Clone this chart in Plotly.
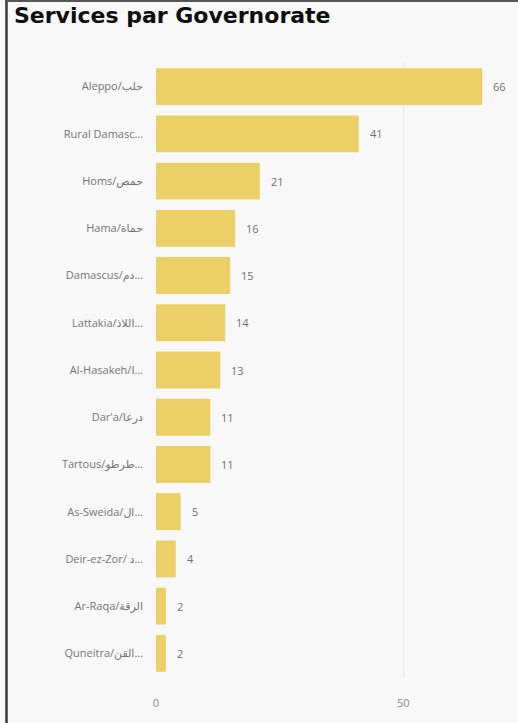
import plotly.graph_objects as go

# Services count by governorate (top to bottom)
governorates = [
    "Aleppo/حلب", "Rural Damasc…", "Homs/حمص", "Hama/حماة", "Damascus/دم…",
    "Lattakia/اللاذ…", "Al-Hasakeh/ا…", "Dar'a/درعا", "Tartous/طرطو…",
    "As-Sweida/ال…", "Deir-ez-Zor/ د…", "Ar-Raqa/الرقة", "Quneitra/القن…",
]
services = [66, 41, 21, 16, 15, 14, 13, 11, 11, 5, 4, 2, 2]
x_ticks = [0, 50]

W, H = 518, 723
ML, MR, MT, MB = 156, 6, 63, 46
pw, ph = W - ML - MR, H - MT - MB

BAR = "#EDD065"
BG = "#f8f8f8"
LABEL_FONT = "Open Sans, DejaVu Sans"

fig = go.Figure(go.Bar(
    x=services, y=governorates, orientation="h",
    marker=dict(color=BAR, line=dict(width=0)),
    hoverinfo="x+y",
))

# value labels next to each bar end
for g, v in zip(governorates, services):
    fig.add_annotation(x=v, y=g, text=str(v), showarrow=False,
                       xanchor="left", xshift=9,
                       font=dict(family=LABEL_FONT, size=11, color="#707070"))

# frame lines on left and top edges
def px_to_paper_x(px):
    return (px - ML) / pw

def px_to_paper_y(py):
    return (H - MB - py) / ph

fig.add_shape(type="line", xref="paper", yref="paper",
              x0=px_to_paper_x(6.5), x1=px_to_paper_x(6.5),
              y0=px_to_paper_y(0), y1=px_to_paper_y(H),
              line=dict(color="#3a3a3a", width=2.5))
fig.add_shape(type="line", xref="paper", yref="paper",
              x0=px_to_paper_x(5), x1=px_to_paper_x(W),
              y0=px_to_paper_y(1), y1=px_to_paper_y(1),
              line=dict(color="#555", width=2))

fig.update_layout(
    width=W, height=H,
    margin=dict(l=ML, r=MR, t=MT, b=MB),
    paper_bgcolor=BG, plot_bgcolor=BG,
    bargap=0.22,
    showlegend=False,
    title=dict(text="<b>Services par Governorate</b>",
               x=14 / W, xanchor="left", xref="container",
               y=1 - 8 / H, yanchor="top", yref="container",
               font=dict(family="DejaVu Sans", size=22, color="#0d0d0d")),
    xaxis=dict(range=[0, 72], tickvals=x_ticks, showgrid=True,
               gridcolor="#e9e9e9", gridwidth=1, zeroline=False,
               showline=False, ticks="",
               tickfont=dict(family=LABEL_FONT, size=11, color="#8a8a8a"),
               ticklabelstandoff=18, fixedrange=True),
    yaxis=dict(autorange="reversed", showgrid=False, zeroline=False,
               showline=False, ticks="", ticklabelstandoff=12,
               tickfont=dict(family=LABEL_FONT, size=11, color="#757575"),
               fixedrange=True),
)

fig.write_html("out.html")
